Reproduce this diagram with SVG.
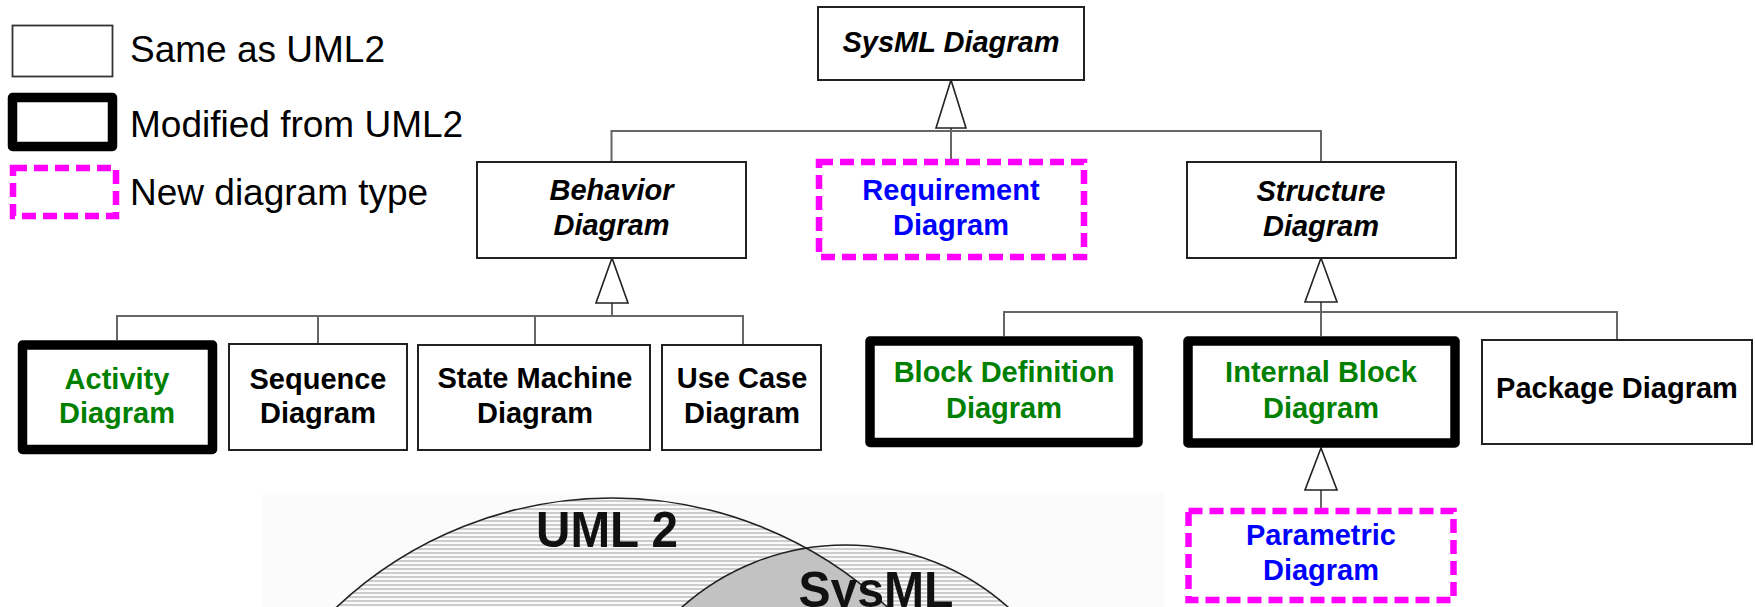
<svg xmlns="http://www.w3.org/2000/svg" width="1755" height="607" viewBox="0 0 1755 607">
<style>
  .thin{fill:#fff;stroke:#222;stroke-width:2}
  .thick{fill:#fff;stroke:#000;stroke-width:9.5;stroke-linejoin:round}
  .new{fill:#fff;stroke:#ff00ff;stroke-width:6.5;stroke-dasharray:14 7}
  .lbl{font-family:"Liberation Sans",Arial,sans-serif;font-size:29px;font-weight:bold;text-anchor:middle}
  .abs{font-style:italic}
  .blk{fill:#000}
  .grn{fill:#008000}
  .blu{fill:#0000ff}
  .leg{font-family:"Liberation Sans",Arial,sans-serif;font-size:37px;fill:#000}
  .conn{fill:none;stroke:#666;stroke-width:2}
  .tri{fill:#fff;stroke:#222;stroke-width:1.6;stroke-linejoin:miter}
  .venn{font-family:"Liberation Sans",Arial,sans-serif;font-weight:bold;font-size:50px;fill:#111;text-anchor:middle}
</style>
<defs>
  <pattern id="hatch" width="8" height="4" patternUnits="userSpaceOnUse">
    <rect width="8" height="4" fill="#fafafa"/>
    <rect width="8" height="2" fill="#cdcdcd"/>
  </pattern>
  <clipPath id="clipBig"><circle cx="612" cy="900" r="402"/></clipPath>
</defs>
<rect width="1755" height="607" fill="#fff"/>

<!-- Legend -->
<g id="legend">
  <rect x="12.5" y="25.5" width="100" height="51" fill="#fff" stroke="#333" stroke-width="1.8"/>
  <rect x="12.5" y="97.5" width="100" height="49" class="thick"/>
  <rect x="13" y="168" width="103" height="48" class="new"/>
  <text x="130" y="62" class="leg">Same as UML2</text>
  <text x="130" y="137" class="leg">Modified from UML2</text>
  <text x="130" y="205" class="leg">New diagram type</text>
</g>

<!-- Connectors -->
<g id="connectors">
  <path class="conn" d="M951 128 V162 M611.5 162 V131 H1321 V162"/>
  <polygon class="tri" points="951,80 936,128 966,128"/>
  <path class="conn" d="M612 303 V316 M117 340 V316 H743 V345 M318 316 V344 M535 316 V345"/>
  <polygon class="tri" points="612,258 596,303 628,303"/>
  <path class="conn" d="M1321 302 V336 M1004 336 V312 H1617 V340"/>
  <polygon class="tri" points="1321,258 1305,302 1337,302"/>
  <path class="conn" d="M1321 490 V508"/>
  <polygon class="tri" points="1321,448 1305,490 1337,490"/>
</g>

<!-- Top level -->
<g id="sysml">
  <rect x="818" y="7" width="266" height="73" class="thin"/>
  <text x="951" y="52" class="lbl abs blk">SysML Diagram</text>
</g>
<g id="behavior">
  <rect x="477" y="162" width="269" height="96" class="thin"/>
  <text x="611.5" y="200" class="lbl abs blk">Behavior</text>
  <text x="611.5" y="235" class="lbl abs blk">Diagram</text>
</g>
<g id="requirement">
  <rect x="819" y="162" width="265" height="95" class="new"/>
  <text x="951" y="200" class="lbl blu">Requirement</text>
  <text x="951" y="235" class="lbl blu">Diagram</text>
</g>
<g id="structure">
  <rect x="1187" y="162" width="269" height="96" class="thin"/>
  <text x="1321" y="201" class="lbl abs blk">Structure</text>
  <text x="1321" y="236" class="lbl abs blk">Diagram</text>
</g>

<!-- Behavior children -->
<g id="activity">
  <rect x="22.5" y="345" width="190" height="104.5" class="thick"/>
  <text x="117" y="389" class="lbl grn">Activity</text>
  <text x="117" y="423" class="lbl grn">Diagram</text>
</g>
<g id="sequence">
  <rect x="229" y="344" width="178" height="106" class="thin"/>
  <text x="318" y="389" class="lbl blk">Sequence</text>
  <text x="318" y="423" class="lbl blk">Diagram</text>
</g>
<g id="statemachine">
  <rect x="418" y="345" width="232" height="105" class="thin"/>
  <text x="535" y="388" class="lbl blk">State Machine</text>
  <text x="535" y="423" class="lbl blk">Diagram</text>
</g>
<g id="usecase">
  <rect x="662" y="345" width="159" height="105" class="thin"/>
  <text x="742" y="388" class="lbl blk">Use Case</text>
  <text x="742" y="423" class="lbl blk">Diagram</text>
</g>

<!-- Structure children -->
<g id="bdd">
  <rect x="870" y="341" width="268" height="101.5" class="thick"/>
  <text x="1004" y="382" class="lbl grn">Block Definition</text>
  <text x="1004" y="418" class="lbl grn">Diagram</text>
</g>
<g id="ibd">
  <rect x="1188" y="341" width="267" height="102" class="thick"/>
  <text x="1321" y="382" class="lbl grn">Internal Block</text>
  <text x="1321" y="418" class="lbl grn">Diagram</text>
</g>
<g id="package">
  <rect x="1482" y="340" width="270" height="104" class="thin"/>
  <text x="1617" y="398" class="lbl blk">Package Diagram</text>
</g>
<g id="parametric">
  <rect x="1188.5" y="511" width="265" height="89" class="new"/>
  <text x="1321" y="545" class="lbl blu">Parametric</text>
  <text x="1321" y="580" class="lbl blu">Diagram</text>
</g>

<!-- Venn -->
<g id="venn">
  <rect x="262" y="493" width="902" height="114" fill="#fbfbfb"/>
  <circle cx="612" cy="900" r="402" fill="url(#hatch)"/>
  <circle cx="845" cy="790" r="245" fill="url(#hatch)"/>
  <circle cx="845" cy="790" r="245" fill="#c2c2c2" clip-path="url(#clipBig)"/>
  <circle cx="612" cy="900" r="402" fill="none" stroke="#222" stroke-width="1.6"/>
  <circle cx="845" cy="790" r="245" fill="none" stroke="#222" stroke-width="1.6"/>
  <text x="607" y="547" class="venn" textLength="142" lengthAdjust="spacingAndGlyphs">UML 2</text>
  <text x="876" y="607" class="venn" textLength="155" lengthAdjust="spacingAndGlyphs">SysML</text>
</g>
</svg>
